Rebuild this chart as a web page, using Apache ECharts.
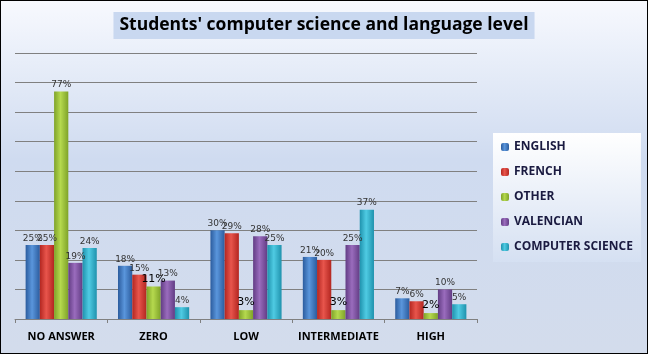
<!DOCTYPE html>
<html>
<head>
<meta charset="utf-8">
<script src="https://cdn.jsdelivr.net/npm/echarts@6/dist/echarts.min.js"></script>
<style>
html,body{margin:0;padding:0;}
#levelChart{width:646px;height:352px;border:1px solid #000;}
</style>
</head>
<body>
<div id="levelChart"></div>
<script>
var levels = ['NO ANSWER', 'ZERO', 'LOW', 'INTERMEDIATE', 'HIGH'];
var subjects = ['ENGLISH', 'FRENCH', 'OTHER', 'VALENCIAN', 'COMPUTER SCIENCE'];
var english = [25, 18, 30, 21, 7];
var french = [25, 15, 29, 20, 6];
var other = [77, 11, 3, 3, 2];
var valencian = [19, 13, 28, 25, 10];
var compSci = [24, 4, 25, 37, 5];

// edge / centre colours for the cylinder look
var shades = [
	['#2b5c9e', '#5a96dc'],
	['#b32620', '#e8554c'],
	['#7fa329', '#b5d94e'],
	['#623c84', '#9a6cbd'],
	['#1f92ad', '#4fcbe3']
];
var values = [english, french, other, valencian, compSci];

function barColor(i){
	return new echarts.graphic.LinearGradient(0, 0, 1, 0, [
		{offset: 0, color: shades[i][0]},
		{offset: 0.45, color: shades[i][1]},
		{offset: 1, color: shades[i][0]}
	]);
}

function initbarchart(){
	var barChart = echarts.init(document.getElementById("levelChart"));
	var series = [];
	for(var i=0;i<subjects.length;i++){
		var data = values[i];
		if(i == 2){
			// OTHER labels look bigger and black, except the tall one
			data = values[i].map(function(v){
				if(v > 50) return {value: v, label: {fontSize: 9, color: '#333'}};
				return v;
			});
		}
		series.push({
			name: subjects[i],
			type: 'bar',
			data: data,
			barGap: '0%',
			barCategoryGap: '23%',
			itemStyle: {color: barColor(i)},
			label: {
				show: true,
				position: 'top',
				distance: 2,
				formatter: '{c}%',
				fontFamily: 'DejaVu Sans',
				fontSize: i == 2 ? 11 : 9,
				color: i == 2 ? '#000' : '#333'
			}
		});
	}
	var barOption = {
		backgroundColor: new echarts.graphic.LinearGradient(0, 0, 0, 1, [
			{offset: 0, color: '#f7f9fe'},
			{offset: 0.45, color: '#cfdbf0'},
			{offset: 1, color: '#d3dcec'}
		]),
		color: ['#3c78c6', '#d63a33', '#9dc33b', '#7d529f', '#35b4cf'],
		title: {
			text: "Students' computer science and language level",
			left: 'center',
			top: 11,
			padding: [4, 6, 5, 6],
			backgroundColor: '#c9d8f0',
			textStyle: {
				fontFamily: 'Open Sans',
				fontWeight: 'bold',
				fontSize: 17.5,
				color: '#000'
			}
		},
		legend: {
			orient: 'vertical',
			left: 492,
			top: 132,
			padding: [8, 8, 9, 8],
			itemWidth: 8,
			itemHeight: 8,
			itemGap: 13,
			backgroundColor: new echarts.graphic.LinearGradient(0, 0, 0, 1, [
				{offset: 0, color: '#ffffff'},
				{offset: 1, color: '#d5e0f2'}
			]),
			textStyle: {
				fontFamily: 'Open Sans',
				fontWeight: 'bold',
				fontSize: 12,
				color: '#1a1a40'
			},
			data: subjects
		},
		grid: {
			left: 14,
			right: 170,
			top: 52,
			bottom: 34
		},
		xAxis: {
			type: 'category',
			data: levels,
			axisLine: {lineStyle: {color: '#808080'}},
			axisTick: {show: true, length: 4, lineStyle: {color: '#808080'}},
			axisLabel: {
				interval: 0,
				margin: 12,
				fontFamily: 'Open Sans',
				fontWeight: 'bold',
				fontSize: 11,
				color: '#000'
			}
		},
		yAxis: {
			type: 'value',
			min: 0,
			max: 90,
			interval: 10,
			axisLabel: {show: false},
			axisLine: {show: false},
			axisTick: {show: false},
			splitLine: {lineStyle: {color: '#808080'}}
		},
		series: series
	};
	barChart.setOption(barOption);
}

initbarchart();
</script>
</body>
</html>
